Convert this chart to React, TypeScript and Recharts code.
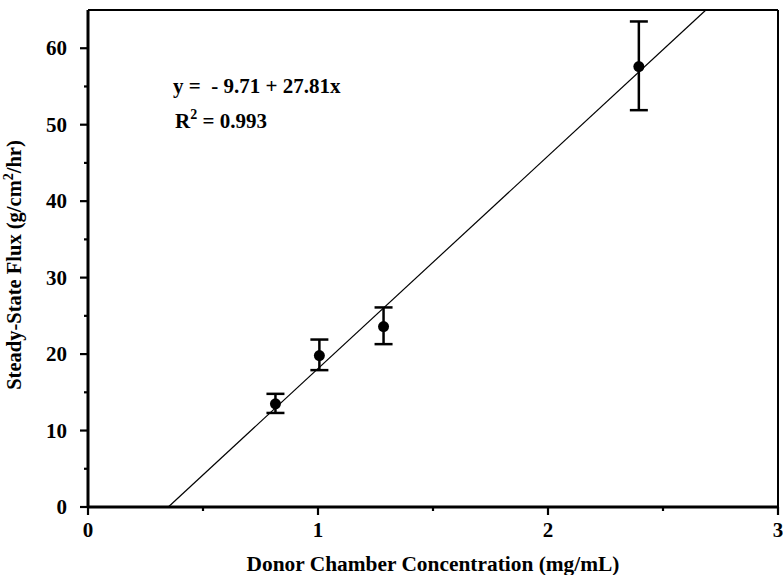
import React from "react";
import {
  ComposedChart,
  Scatter,
  ErrorBar,
  XAxis,
  YAxis,
  ReferenceLine,
} from "recharts";

// donor chamber concentration (mg/mL)
const concentrations = [0.815, 1.006, 1.285, 2.395];
// steady-state flux means and error-bar ends (g/cm2/hr)
const fluxMeans = [13.5, 19.8, 23.6, 57.6];
const fluxLows = [12.3, 17.9, 21.3, 51.9];
const fluxHighs = [14.8, 21.9, 26.1, 63.5];

// regression shown in the plot
const fitIntercept = -9.71;
const fitSlope = 27.81;

const xTicks = [0, 0.5, 1, 1.5, 2, 2.5, 3];
const yTicks = [0, 5, 10, 15, 20, 25, 30, 35, 40, 45, 50, 55, 60];
const yMax = 65;
const xMax = 3;

const points = concentrations.map((x, i) => ({
  x,
  y: fluxMeans[i],
  err: [fluxMeans[i] - fluxLows[i], fluxHighs[i] - fluxMeans[i]],
}));

const fitStart = { x: -fitIntercept / fitSlope, y: 0 };
const fitEnd = { x: (yMax - fitIntercept) / fitSlope, y: yMax };

const FONT = "'Liberation Serif', 'Times New Roman', serif";

const YTick = (props: any) => {
  const { x, y, payload } = props;
  const major = payload.value % 10 === 0;
  const axisX = x + 13 + 8;
  return (
    <g>
      <line x1={axisX - (major ? 8 : 4)} x2={axisX} y1={y} y2={y} stroke="#000" strokeWidth={2.2} />
      {major && (
        <text x={x} y={y + 7} textAnchor="end" fontFamily={FONT} fontWeight="bold" fontSize={21} fill="#000">
          {payload.value}
        </text>
      )}
    </g>
  );
};

const XTick = (props: any) => {
  const { x, y, payload } = props;
  const major = Number.isInteger(payload.value);
  const axisY = y - 8;
  return (
    <g>
      <line x1={x} x2={x} y1={axisY} y2={axisY + (major ? 8 : 4)} stroke="#000" strokeWidth={2.2} />
      {major && (
        <text x={x} y={axisY + 30} textAnchor="middle" fontFamily={FONT} fontWeight="bold" fontSize={21} fill="#000">
          {payload.value}
        </text>
      )}
    </g>
  );
};

const Dot = (props: any) => <circle cx={props.cx} cy={props.cy} r={5.5} fill="#000" />;

export default function App() {
  return (
    <div style={{ position: "absolute", left: 0, top: 0, width: 783, height: 575, background: "#fff" }}>
      <ComposedChart width={783} height={575} margin={{ top: 10, right: 5, bottom: 0, left: 0 }}>
        <XAxis
          type="number"
          dataKey="x"
          domain={[0, xMax]}
          ticks={xTicks}
          height={68}
          tickSize={8}
          tickMargin={0}
          tickLine={false}
          axisLine={{ stroke: "#000", strokeWidth: 3 }}
          tick={<XTick />}
          interval={0}
          allowDataOverflow
          label={{
            value: "Donor Chamber Concentration (mg/mL)",
            position: "insideBottom",
            offset: 4,
            fontFamily: FONT,
            fontWeight: "bold",
            fontSize: 21.4,
            fill: "#000",
          }}
        />
        <YAxis
          type="number"
          dataKey="y"
          domain={[0, yMax]}
          ticks={yTicks}
          width={88}
          tickSize={8}
          tickMargin={13}
          tickLine={false}
          axisLine={{ stroke: "#000", strokeWidth: 3 }}
          tick={<YTick />}
          interval={0}
          allowDataOverflow
          label={{
            value: "",
            content: () => (
              <text
                x={21}
                y={265}
                transform="rotate(-90 21 265)"
                textAnchor="middle"
                fontFamily={FONT}
                fontWeight="bold"
                fontSize={20.5}
                fill="#000"
              >
                Steady-State Flux (g/cm
                <tspan dy={-8} fontSize={14}>2</tspan>
                <tspan dy={8}>/hr)</tspan>
              </text>
            ),
          }}
        />
        <ReferenceLine y={yMax} stroke="#000" strokeWidth={2} />
        <ReferenceLine x={xMax} stroke="#000" strokeWidth={2} />
        <ReferenceLine segment={[fitStart, fitEnd]} stroke="#000" strokeWidth={1.2} />
        <Scatter data={points} dataKey="y" shape={<Dot />} isAnimationActive={false}>
          <ErrorBar dataKey="err" direction="y" width={9} stroke="#000" strokeWidth={2.5} />
        </Scatter>
        <g fontFamily={FONT} fontWeight="bold" fontSize={21} fill="#000">
          <text x={173} y={93} xmlSpace="preserve">y =  - 9.71 + 27.81x</text>
          <text x={175} y={128}>
            R<tspan dy={-9} fontSize={14}>2</tspan>
            <tspan dy={9}> = 0.993</tspan>
          </text>
        </g>
      </ComposedChart>
    </div>
  );
}
